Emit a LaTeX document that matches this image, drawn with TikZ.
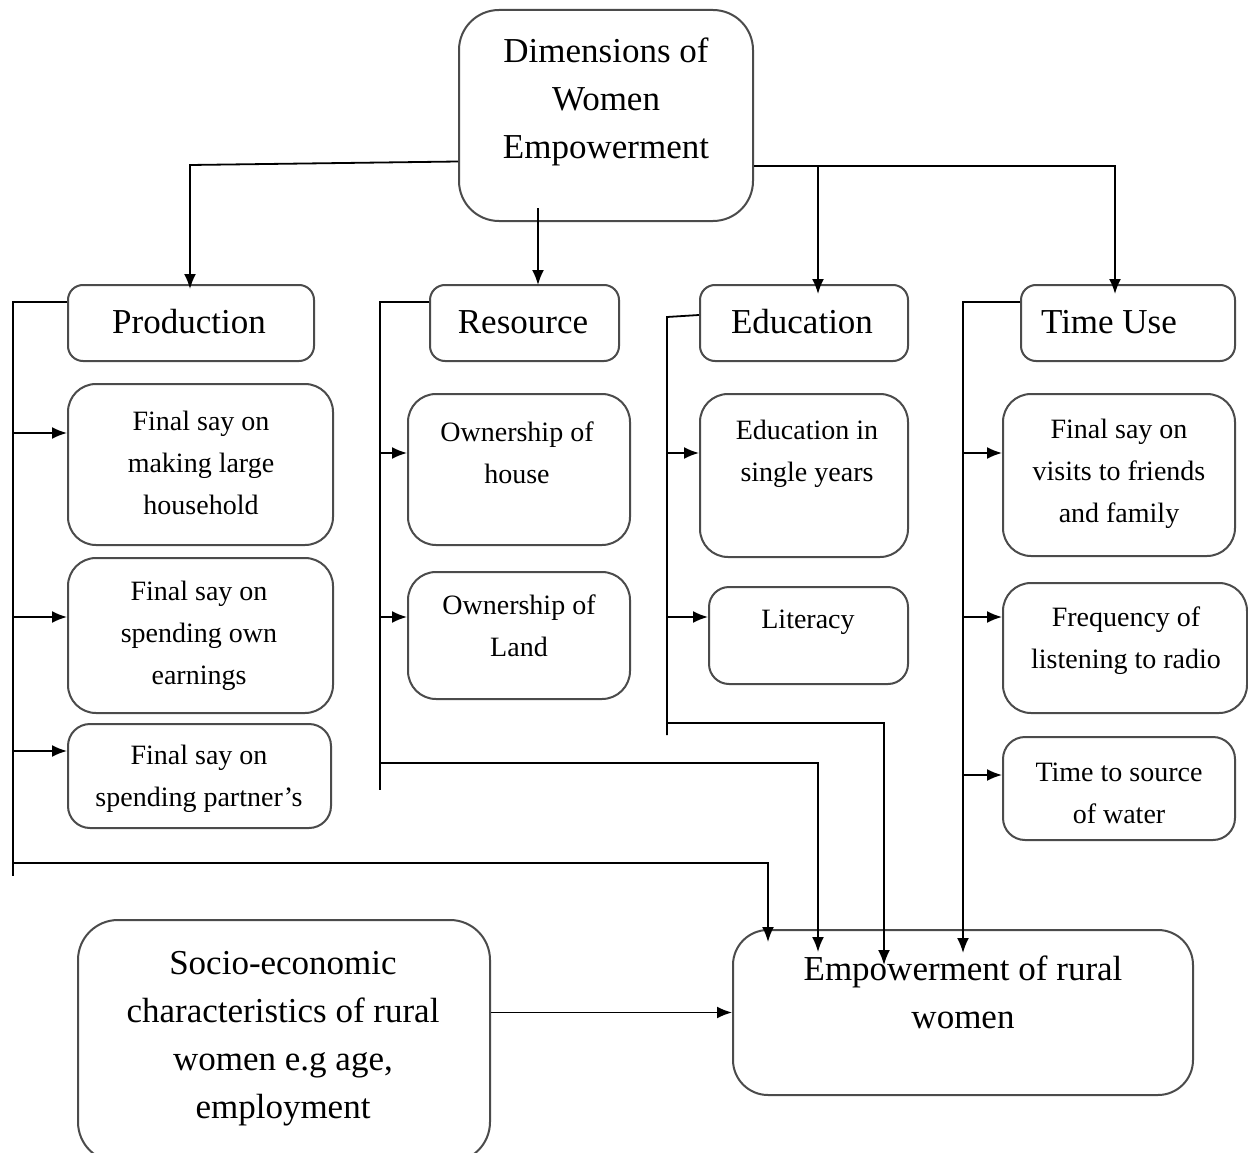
\documentclass[tikz,border=0pt]{standalone}
\usepackage{fontspec}
\setmainfont{Liberation Serif}
\usetikzlibrary{arrows.meta,fit}
\definecolor{boxgray}{RGB}{75,75,75}
\begin{document}
\begin{tikzpicture}[x=1pt,y=-1pt,
  box/.style={draw=boxgray, line width=2pt, inner sep=0pt, rounded corners=#1},
  box/.default=28pt,
  bigt/.style={font=\fontsize{35}{48}\selectfont, align=center, inner sep=0pt},
  smallt/.style={font=\fontsize{28}{42}\selectfont, align=center, inner sep=0pt},
  conn/.style={line width=1.8pt, black},
  arr/.style={conn, -{Latex[length=15pt,width=12pt]}}
]
\useasboundingbox[fill=white] (0,0) rectangle (1248,1153);

% ---- boxes ----
\node[box=40pt, fit={(459,10) (753,221)}] (top) {};
\node[box=15pt, fit={(68,285) (314,361)}] (prod) {};
\node[box=15pt, fit={(430,285) (619,361)}] (res) {};
\node[box=15pt, fit={(700,285) (908,361)}] (edu) {};
\node[box=15pt, fit={(1021,285) (1235,361)}] (tim) {};

\node[box, fit={(68,384) (333,545)}] (pb1) {};
\node[box, fit={(68,558) (333,713)}] (pb2) {};
\node[box=22pt, fit={(68,724) (331,828)}] (pb3) {};

\node[box, fit={(408,394) (630,545)}] (rb1) {};
\node[box, fit={(408,572) (630,699)}] (rb2) {};

\node[box, fit={(700,394) (908,557)}] (eb1) {};
\node[box=20pt, fit={(709,587) (908,684)}] (eb2) {};

\node[box, fit={(1003,394) (1235,556)}] (tb1) {};
\node[box, fit={(1003,583) (1247,713)}] (tb2) {};
\node[box=22pt, fit={(1003,737) (1235,840)}] (tb3) {};

\node[box=40pt, fit={(78,920) (490,1162)}] (soc) {};
\node[box=35pt, fit={(733,930) (1193,1095)}] (emp) {};

% ---- texts ----
\node[bigt] (topt) at (606,102) {Dimensions of\\Women\\Empowerment};
\node[bigt] (prodt) at (189,322) {Production};
\node[bigt] (rest) at (523,322) {Resource};
\node[bigt] (edut) at (802,322) {Education};
\node[bigt] (timt) at (1109,322) {Time Use};

\node[smallt] (pb1t) at (201,463) {Final say on\\making large\\household};
\node[smallt] (pb2t) at (199,636) {Final say on\\spending own\\earnings};
\node[smallt] (pb3t) at (199,779) {Final say on\\spending partner’s};

\node[smallt] (rb1t) at (517,453) {Ownership of\\house};
\node[smallt] (rb2t) at (519,626) {Ownership of\\Land};

\node[smallt] (eb1t) at (807,454) {Education in\\single years};
\node[smallt] (eb2t) at (808,622) {Literacy};

\node[smallt] (tb1t) at (1119,474) {Final say on\\visits to friends\\and family};
\node[smallt] (tb2t) at (1126,641) {Frequency of\\listening to radio};
\node[smallt] (tb3t) at (1119,793) {Time to source\\of water};

\node[bigt] (soct) at (283,1039) {Socio-economic\\characteristics of rural\\women e.g age,\\employment};
\node[bigt] (empt) at (963,992) {Empowerment of rural\\women};

% ---- top connectors ----
\coordinate (c1) at (190,165);
\coordinate (c2) at (538,208);
\coordinate (c3) at (1115,166);
\coordinate (c4) at (818,166);
\draw[arr] ([yshift=-46pt]top.west) -- (c1) -- ([yshift=-5pt]c1 |- prod.north);
\draw[arr] (c2) -- ([yshift=-1pt]c2 |- res.north);
\draw[arr] ([yshift=-50.5pt]top.east) -- (c3) -- ([yshift=-10pt]c3 |- tim.north);
\draw[arr] (c4) -- ([yshift=-10pt]c4 |- edu.north);

% ---- production bus ----
\coordinate (pt) at (13,302);
\coordinate (pbot) at (13,876);
\coordinate (pa1) at (13,433);
\coordinate (pa2) at (13,617);
\coordinate (pa3) at (13,751);
\coordinate (pj) at (13,863);
\coordinate (pk) at (768,863);
\coordinate (e1) at (768,942);
\draw[conn] ([yshift=21pt]prod.west) -- (pt) -- (pbot);
\draw[arr] (pa1) -- (pa1 -| pb1.west);
\draw[arr] (pa2) -- (pa2 -| pb2.west);
\draw[arr] (pa3) -- (pa3 -| pb3.west);
\draw[arr] (pj) -- (pk) -- (e1);

% ---- resource bus ----
\coordinate (rt) at (380,302);
\coordinate (rbot) at (380,790);
\coordinate (ra1) at (380,453);
\coordinate (ra2) at (380,617);
\coordinate (rj) at (380,763);
\coordinate (rk) at (818,763);
\coordinate (e2) at (818,952);
\draw[conn] ([yshift=21pt]res.west) -- (rt) -- (rbot);
\draw[arr] (ra1) -- (ra1 -| rb1.west);
\draw[arr] (ra2) -- (ra2 -| rb2.west);
\draw[arr] (rj) -- (rk) -- (e2);

% ---- education bus ----
\coordinate (et) at (667,317);
\coordinate (ebot) at (667,735);
\coordinate (ea1) at (667,453);
\coordinate (ea2) at (667,617);
\coordinate (ej) at (667,723);
\coordinate (ek) at (884,723);
\coordinate (e3) at (884,965);
\draw[conn] ([yshift=8pt]edu.west) -- (et) -- (ebot);
\draw[arr] (ea1) -- (ea1 -| eb1.west);
\draw[arr] (ea2) -- (ea2 -| eb2.west);
\draw[arr] (ej) -- (ek) -- (e3);

% ---- time use bus ----
\coordinate (tt) at (963,302);
\coordinate (e4) at (963,953);
\coordinate (ta1) at (963,453);
\coordinate (ta2) at (963,617);
\coordinate (ta3) at (963,775);
\draw[arr] ([yshift=21pt]tim.west) -- (tt) -- (e4);
\draw[arr] (ta1) -- (ta1 -| tb1.west);
\draw[arr] (ta2) -- (ta2 -| tb2.west);
\draw[arr] (ta3) -- (ta3 -| tb3.west);

% ---- socio-economic to empowerment ----
\draw[arr] (soc.east |- emp.west) -- (emp.west);
\end{tikzpicture}
\end{document}
